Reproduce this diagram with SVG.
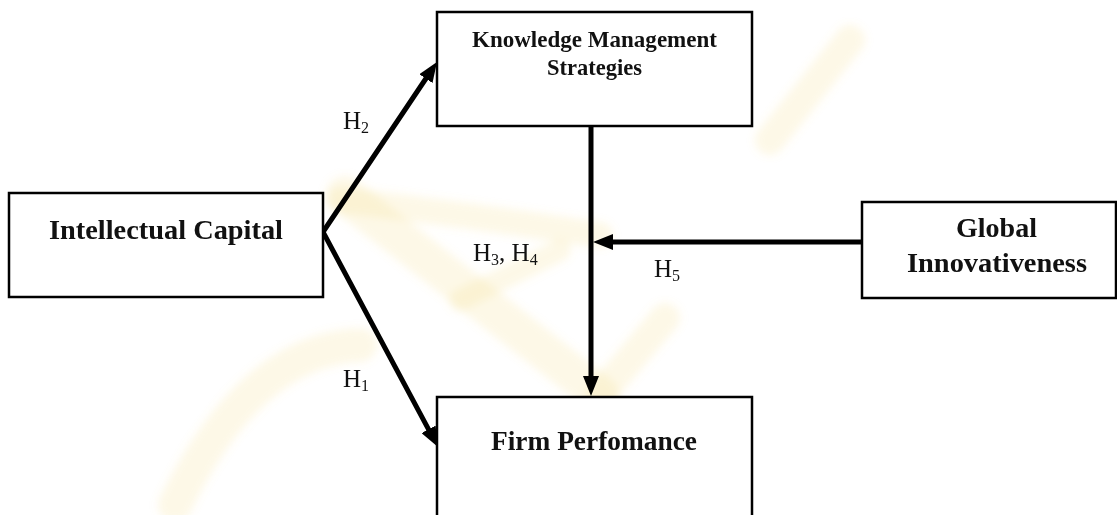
<svg xmlns="http://www.w3.org/2000/svg" width="1117" height="515" viewBox="0 0 1117 515">
  <style>
    .box { fill: #ffffff; stroke: #000000; stroke-width: 2.5; }
    .lbl { font-family: "Liberation Serif", "Times New Roman", serif; font-weight: bold; fill: #111111; text-anchor: middle; }
    .h { font-family: "Liberation Serif", "Times New Roman", serif; font-size: 25px; fill: #111111; }
    .sub { font-size: 16px; }
    .conn { fill: none; stroke: #000000; stroke-width: 5; }
    .wm { fill: none; stroke: #f0d36a; stroke-linecap: round; opacity: 0.16; }
  </style>
  <defs>
    <marker id="arrow" viewBox="0 0 20 16" markerWidth="20" markerHeight="16" refX="8" refY="8" markerUnits="userSpaceOnUse" orient="auto-start-reverse">
      <path d="M0,0 L20,8 L0,16 z" fill="#000000"/>
    </marker>
    <filter id="soft" x="-20%" y="-20%" width="140%" height="140%">
      <feGaussianBlur stdDeviation="4"/>
    </filter>
  </defs>

  <rect x="0" y="0" width="1117" height="515" fill="#ffffff"/>

  <g id="watermark" filter="url(#soft)">
    <path class="wm" stroke-width="38" d="M345,195 L600,395"/>
    <path class="wm" stroke-width="30" d="M600,395 L665,318"/>
    <path class="wm" stroke-width="26" d="M340,200 Q470,215 600,235"/>
    <path class="wm" stroke-width="30" d="M770,140 L850,40"/>
    <path class="wm" stroke-width="34" d="M175,505 Q250,350 360,345"/>
    <path class="wm" stroke-width="22" d="M460,300 L560,250"/>
  </g>

  <g id="connectors">
    <path class="conn" d="M430.3,72 L323,232 L432.3,436.4" stroke-linejoin="miter" marker-start="url(#arrow)" marker-end="url(#arrow)"/>
    <path class="conn" d="M591,126 L591,384" marker-end="url(#arrow)"/>
    <path class="conn" d="M862,242 L605,242" marker-end="url(#arrow)"/>
  </g>

  <g id="node-intellectual-capital">
    <rect class="box" x="9" y="193" width="314" height="104"/>
    <text class="lbl" x="166" y="239" font-size="27" textLength="234" lengthAdjust="spacingAndGlyphs">Intellectual Capital</text>
  </g>

  <g id="node-knowledge-management">
    <rect class="box" x="437" y="12" width="315" height="114"/>
    <text class="lbl" x="594.5" y="47" font-size="22.5" textLength="245" lengthAdjust="spacingAndGlyphs">Knowledge Management</text>
    <text class="lbl" x="594.5" y="75" font-size="22.5" textLength="95" lengthAdjust="spacingAndGlyphs">Strategies</text>
  </g>

  <g id="node-global-innovativeness">
    <rect class="box" x="862" y="202" width="254" height="96"/>
    <text class="lbl" x="996.5" y="237" font-size="28" textLength="81" lengthAdjust="spacingAndGlyphs">Global</text>
    <text class="lbl" x="997" y="272" font-size="28" textLength="180" lengthAdjust="spacingAndGlyphs">Innovativeness</text>
  </g>

  <g id="node-firm-performance">
    <rect class="box" x="437" y="397" width="315" height="130"/>
    <text class="lbl" x="594" y="450" font-size="27" textLength="206" lengthAdjust="spacingAndGlyphs">Firm Perfomance</text>
  </g>

  <g id="labels">
    <text class="h" x="343" y="129">H<tspan class="sub" dy="4">2</tspan></text>
    <text class="h" x="343" y="387">H<tspan class="sub" dy="4">1</tspan></text>
    <text class="h" x="473" y="261">H<tspan class="sub" dy="4">3</tspan><tspan dy="-4">, H</tspan><tspan class="sub" dy="4">4</tspan></text>
    <text class="h" x="654" y="277">H<tspan class="sub" dy="4">5</tspan></text>
  </g>
</svg>
